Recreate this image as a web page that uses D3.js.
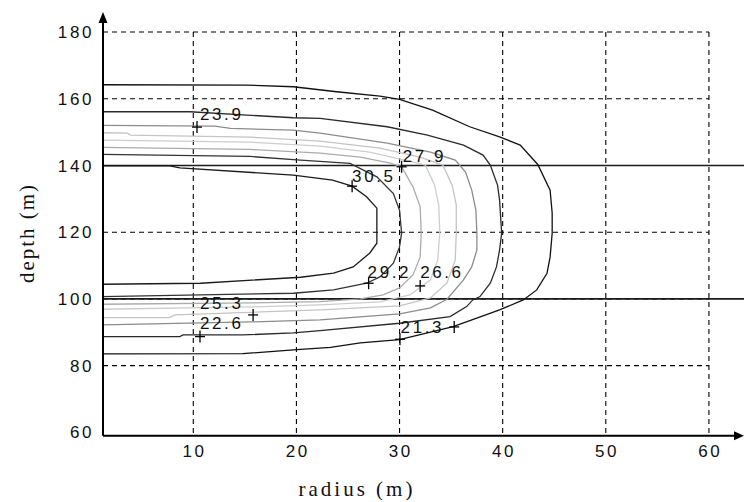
<!DOCTYPE html>
<html><head><meta charset="utf-8">
<script src="https://cdn.jsdelivr.net/npm/d3@7"></script>
<style>body{margin:0;background:#fff}svg{display:block}</style>
</head><body>
<svg id="c" width="744" height="502"></svg>
<script>
// ---- data ----
const xTicks = [10, 20, 30, 40, 50, 60];
const yTicks = [60, 80, 100, 120, 140, 160, 180];
const layerDepths = [140, 100];
const levels = ["21.3", "22.6", "23.9", "25.3", "26.6", "27.9", "29.2", "30.5"];

const c213 = [[1.2,164.2],[15.1,164.1],[19.7,163.6],[23.9,162.1],[28.1,160.8],[30.0,159.8],[33.2,156.6],[36.8,151.6],[39.7,148.6],[41.7,146.1],[43.4,140.3],[44.6,132.6],[44.8,125.7],[44.8,119.7],[44.6,112.6],[44.3,107.7],[43.3,102.7],[42.0,99.7],[39.7,96.7],[35.2,91.7],[30.0,87.8],[26.2,86.8],[23.3,85.5],[19.7,84.7],[14.8,83.6],[1.2,83.5]];
const c226 = [[1.2,156.1],[9.7,156.1],[15.2,155.1],[19.7,154.3],[22.3,154.1],[28.8,151.6],[32.7,149.1],[36.2,146.1],[38.1,143.1],[38.8,140.1],[39.5,134.1],[39.7,129.6],[39.9,119.7],[39.7,114.7],[39.4,109.6],[38.8,104.7],[37.8,100.7],[37.1,99.7],[36.5,97.7],[34.9,94.7],[30.0,92.7],[22.3,90.5],[19.7,89.8],[14.8,89.2],[9.0,89.2],[8.7,88.7],[1.2,88.7]];
const c239 = [[1.2,152.0],[12.1,151.8],[13.6,151.1],[19.7,150.6],[22.3,149.7],[28.8,146.7],[33.0,144.0],[35.4,141.6],[36.4,138.0],[37.0,132.6],[37.4,126.6],[37.5,119.7],[37.5,114.7],[37.0,109.6],[36.2,105.7],[34.6,99.9],[33.0,97.3],[30.0,95.5],[22.3,93.7],[15.5,93.1],[1.2,92.2]];
const c253 = [[1.2,149.8],[3.6,149.7],[3.9,149.1],[15.5,148.5],[22.3,147.3],[28.1,145.2],[32.0,142.5],[34.2,140.1],[35.1,134.1],[35.5,128.1],[35.5,119.7],[35.4,111.7],[34.6,104.8],[33.0,100.3],[30.0,97.9],[22.3,96.7],[8.2,95.2],[7.7,94.4],[1.2,94.4]];
const c266 = [[1.2,147.6],[15.5,147.0],[22.3,145.8],[27.1,144.0],[30.5,141.6],[32.5,140.1],[33.4,134.1],[33.8,128.1],[33.9,119.7],[33.7,111.7],[33.0,105.7],[31.0,101.2],[28.1,99.1],[22.3,98.2],[15.5,97.6],[1.2,96.9]];
const c279 = [[1.2,145.4],[15.5,144.8],[22.3,143.7],[26.2,142.5],[29.1,140.7],[30.2,139.6],[31.3,133.6],[32.0,127.6],[32.1,119.7],[32.0,112.6],[31.3,107.2],[30.0,103.3],[28.4,101.2],[26.2,100.0],[22.3,99.2],[15.5,98.8],[1.2,98.4]];
const c292 = [[1.2,143.3],[15.5,142.7],[20.4,141.6],[25.2,140.6],[27.8,136.6],[29.4,131.6],[30.0,126.6],[30.2,119.7],[30.0,115.6],[29.4,110.7],[28.1,106.6],[26.8,104.7],[23.6,102.7],[19.7,101.7],[10.7,101.2],[1.2,100.7]];
const c305 = [[1.2,139.9],[7.7,139.9],[8.7,139.3],[19.7,137.1],[23.5,135.6],[25.4,133.8],[26.8,130.6],[27.8,127.2],[27.8,119.7],[27.8,116.7],[27.1,113.7],[25.5,109.6],[23.6,107.7],[20.4,106.5],[10.7,104.7],[1.2,104.4]];
const contours = [c213, c226, c239, c253, c266, c279, c292, c305];

// label anchor points (text start) and "+" marks, in data units
const labelPos = [[30.1,89.8],[10.65,91.0],[10.65,153.6],[10.65,97.0],[32.0,106.2],[30.3,140.9],[26.9,106.2],[25.4,135.1]];
const marks = [[10.36,151.5],[30.2,139.6],[25.4,133.8],[27.0,104.7],[32.0,103.9],[35.3,91.6],[30.04,87.9],[10.65,88.7],[15.8,95.2]];

// ---- drawing ----
const svg = d3.select("#c");
const x = d3.scaleLinear().domain([1.245, 63.4]).range([103, 744]);
const y = d3.scaleLinear().domain([59, 185.7]).range([435.7, 13]);
const xMin = x.domain()[0], yMin = y.domain()[0];

const colors = ["#111", "#2a2a2a", "#8c8c8c", "#c4c4c4", "#cdcdcd", "#ababab", "#333", "#1a1a1a"];

// grid
const grid = svg.append("g").attr("stroke", "#000").attr("stroke-width", 1.1).attr("stroke-dasharray", "5,4").attr("fill", "none");
xTicks.forEach(t => grid.append("line").attr("x1", x(t)).attr("x2", x(t)).attr("y1", y(180)).attr("y2", y(yMin)));
yTicks.filter(t => t > 60).forEach(t => grid.append("line").attr("x1", x(xMin)).attr("x2", x(60)).attr("y1", y(t)).attr("y2", y(t)));

// layer boundaries
layerDepths.forEach(d => svg.append("line").attr("x1", x(xMin)).attr("x2", 744).attr("y1", y(d)).attr("y2", y(d))
  .attr("stroke", "#1a1a1a").attr("stroke-width", 1.6));

// contours
const line = d3.line().x(d => x(d[0])).y(d => y(d[1]));
contours.forEach((c, i) => svg.append("path").attr("d", line(c)).attr("fill", "none")
  .attr("stroke", colors[i]).attr("stroke-width", 1.3));

// marks
const mk = svg.append("g").attr("stroke", "#000").attr("stroke-width", 1.3);
marks.forEach(m => {
  const cx = x(m[0]), cy = y(m[1]);
  mk.append("line").attr("x1", cx - 5).attr("x2", cx + 5).attr("y1", cy).attr("y2", cy);
  mk.append("line").attr("x1", cx).attr("x2", cx).attr("y1", cy - 6).attr("y2", cy + 6);
});

// contour labels
const fontSans = "'Liberation Sans', Arial, sans-serif";
levels.forEach((lv, i) => svg.append("text").attr("x", x(labelPos[i][0])).attr("y", y(labelPos[i][1]))
  .attr("font-family", fontSans).attr("font-size", 17).attr("letter-spacing", 2.6).attr("fill", "#111").text(lv));

// axes
svg.append("line").attr("x1", x(xMin)).attr("x2", 738).attr("y1", y(yMin)).attr("y2", y(yMin)).attr("stroke", "#000").attr("stroke-width", 2);
svg.append("line").attr("x1", x(xMin)).attr("x2", x(xMin)).attr("y1", y(yMin)).attr("y2", 20).attr("stroke", "#000").attr("stroke-width", 2);
svg.append("path").attr("d", `M${x(xMin)},12 L${x(xMin)-4.5},23 L${x(xMin)+4.5},23 Z`).attr("fill", "#000");
svg.append("path").attr("d", `M744,${y(yMin)} L734,${y(yMin)-4.5} L734,${y(yMin)+4.5} Z`).attr("fill", "#000");

// tick labels
yTicks.forEach(t => svg.append("text").attr("x", 94).attr("y", y(t)).attr("dy", "0.36em").attr("text-anchor", "end")
  .attr("font-family", fontSans).attr("font-size", 17).attr("letter-spacing", 2.6).attr("fill", "#111").text(t));
xTicks.forEach(t => svg.append("text").attr("x", x(t) + 1.3).attr("y", 457).attr("text-anchor", "middle")
  .attr("font-family", fontSans).attr("font-size", 17).attr("letter-spacing", 2.6).attr("fill", "#111").text(t));

// axis titles
const fontSerif = "'Liberation Serif', 'Times New Roman', serif";
svg.append("text").attr("x", 357).attr("y", 496).attr("text-anchor", "middle").attr("font-family", fontSerif)
  .attr("font-size", 21).attr("letter-spacing", 3).attr("fill", "#111").text("radius (m)");
svg.append("text").attr("transform", "translate(34,233) rotate(-90)").attr("text-anchor", "middle").attr("font-family", fontSerif)
  .attr("font-size", 21).attr("letter-spacing", 2).attr("fill", "#111").text("depth (m)");
</script>
</body></html>
